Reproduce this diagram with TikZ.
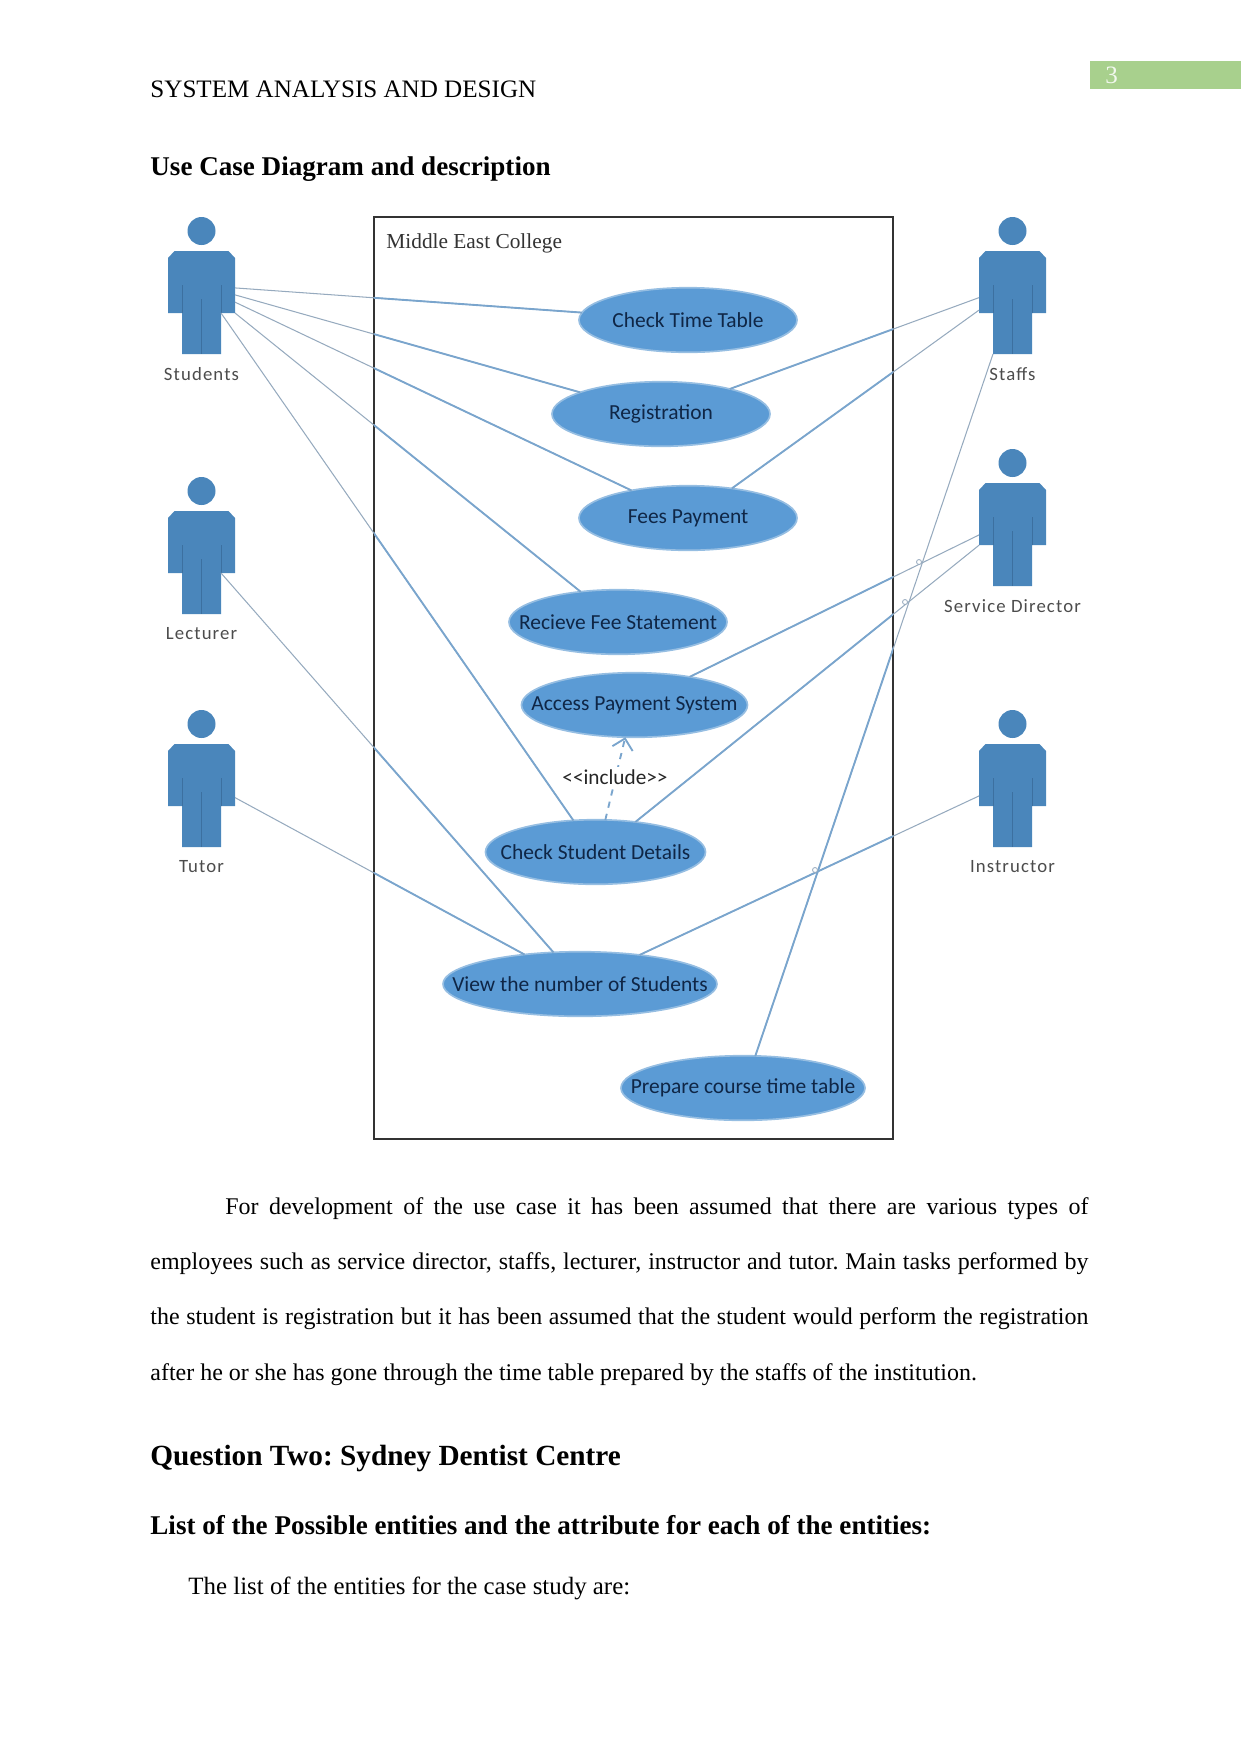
\documentclass[tikz,border=0pt]{standalone}
\usepackage{fontspec}
\setmainfont{Liberation Serif}
\newfontfamily\diagfont{Carlito}
\newfontfamily\actorfont[LetterSpace=6]{Carlito}
\usetikzlibrary{arrows.meta,shapes.geometric}
\definecolor{ucfill}  {RGB}{91,155,213}
\definecolor{ucedge}  {RGB}{150,190,226}
\definecolor{uctext}  {RGB}{15,38,70}
\definecolor{actblue} {RGB}{74,134,187}
\definecolor{actline} {RGB}{60,112,160}
\definecolor{assoc}   {RGB}{122,165,205}
\definecolor{assocthin}{RGB}{150,170,190}
\definecolor{pagegreen}{RGB}{168,208,141}
\tikzset{
  usecase/.style={ellipse,draw=ucedge,line width=0.8pt,fill=ucfill,text=uctext,
                  minimum width=#1*0.48pt,minimum height=31pt,inner xsep=-20pt,
                  inner ysep=0pt,outer sep=0pt,font=\diagfont\fontsize{10.3}{12}\selectfont},
  usecase/.default=218,
  actorpart/.style={rectangle,inner sep=0pt,outer sep=0pt},
  actorname/.style={text=black!70,font=\actorfont\fontsize{9}{11}\selectfont},
  assocline/.style={line width=0.5pt,color=assocthin},
  assocwide/.style={line width=0.9pt,color=assoc},
  heading/.style={anchor=base west,inner sep=0pt,font=\bfseries\fontsize{#1}{16}\selectfont},
  bodytext/.style={anchor=base west,inner sep=0pt,font=\fontsize{#1}{14}\selectfont},
  bodytext/.default=12,
}
% actor and use case anchors of every association
\newcommand{\assocpairs}{students.-10/timetable.176, students.-21/registration.165,
  students.-31/fees.154, students.south east/statement.141,
  studentsleg.north east/details.125, lecturerleg.north east/numbers.130,
  tutor.-34/numbers.152, staffs.205/registration.20, staffs.220/fees.34,
  staffsleg.south west/prepare.69, director.212/payment.27,
  director.223/details.37, instructor.212/numbers.26}

\begin{document}
\frenchspacing
\begin{tikzpicture}[x=0.48pt,y=-0.48pt]
  \useasboundingbox (0,0) rectangle (1241,1754);

  % Running head
  \fill[pagegreen] (1090,61) rectangle (1241,89);
  \node[bodytext,text=white!85!pagegreen] (pageno) at (1105,83) {3};
  \node[bodytext=12.05] (runhead) at (150,97) {SYSTEM ANALYSIS AND DESIGN};
  \node[heading=13] (title) at (150,175) {Use Case Diagram and description};

  % System boundary
  \node[draw=black!80,line width=0.5pt,minimum width=519*0.48pt,minimum height=922*0.48pt,
        inner sep=0pt,outer sep=0pt] (college) at (633.5,678) {};
  \node[anchor=west,inner sep=0pt,text=black!80,font=\fontsize{10.25}{12}\selectfont] (collegename)
    at (386,243.5) {Middle East College};

  % Actors
  \foreach \who/\ax/\ay/\txt in {students/201.5/231/Students, lecturer/201.5/491/Lecturer,
                                 tutor/201.5/724/Tutor, staffs/1012.5/231/Staffs,
                                 director/1012.5/463/Service Director, instructor/1012.5/724/Instructor} {
    \begin{scope}[shift={(\ax,\ay)}]
      \fill[actblue] (0,0) circle (14);
      \fill[actblue] (-33.5,27) -- (-27,20) -- (27,20) -- (33.5,27) -- (33.5,82)
        -- (19.5,82) -- (19.5,123) -- (-19.5,123) -- (-19.5,82) -- (-33.5,82) -- cycle;
      \draw[actline,line width=0.3pt] (-19.5,54) -- (-19.5,82) (19.5,54) -- (19.5,82) (0,68) -- (0,123);
      \node[actorpart,minimum width=67*0.48pt,minimum height=62*0.48pt] (\who) at (0,51) {};
      \node[actorpart,minimum width=39*0.48pt,minimum height=41*0.48pt] (\who leg) at (0,102.5) {};
      \node[actorname] (\who name) at (0,143) {\txt};
    \end{scope}
  }

  % Use cases
  \node[usecase] (timetable) at (688,320) {Check Time Table};
  \node[usecase] (registration) at (661,414) {Registration};
  \node[usecase] (fees) at (688,518) {Fees Payment};
  \node[usecase] (statement) at (618,622) {Recieve Fee Statement};
  \node[usecase=226] (payment) at (634.5,705) {Access Payment System};
  \node[usecase=220] (details) at (595.5,852) {Check Student Details};
  \node[usecase=274] (numbers) at (580,984) {View the number of Students};
  \node[usecase=244] (prepare) at (743,1088) {Prepare course time table};

  % Associations, heavier inside the boundary
  \foreach \from/\to in \assocpairs
    \draw[assocline] (\from) -- (\to);
  \begin{scope}
    \clip (college.north west) rectangle (college.south east);
    \foreach \from/\to in \assocpairs
      \draw[assocwide] (\from) -- (\to);
  \end{scope}

  % Line jumps
  \foreach \jx/\jy in {919/562, 905/602, 815/870}
    \draw[assocline,line width=0.4pt,fill=white] (\jx,\jy) circle (2.5);

  % Include dependency
  \draw[assocwide,dashed,-{Straight Barb[length=5pt]}] (details.73) -- (payment.-106);
  \node[fill=white,inner sep=1pt,text=black!85,font=\diagfont\fontsize{10.2}{12}\selectfont] (include)
    at (615,777) {<{}<include>{}>};

  % Text below the diagram
  \node[anchor=north west,inner sep=0pt,text width=938*0.48pt,align=justify,
        font=\fontsize{11.5}{26.55}\selectfont] (para) at (150,1197)
    {\hspace*{36pt}For development of the use case it has been assumed that there are various types of\linebreak
     employees such as service director, staffs, lecturer, instructor and tutor. Main tasks performed by\linebreak
     the student is registration but it has been assumed that the student would perform the registration\linebreak
     after he or she has gone through the time table prepared by the staffs of the institution.};
  \node[heading=14.05] (question) at (150,1465) {Question Two: Sydney Dentist Centre};
  \node[heading=13] (listhead) at (150,1534) {List of the Possible entities and the attribute for each of the entities:};
  \node[bodytext=11.95] (listintro) at (188,1594) {The list of the entities for the case study are:};
\end{tikzpicture}
\end{document}
